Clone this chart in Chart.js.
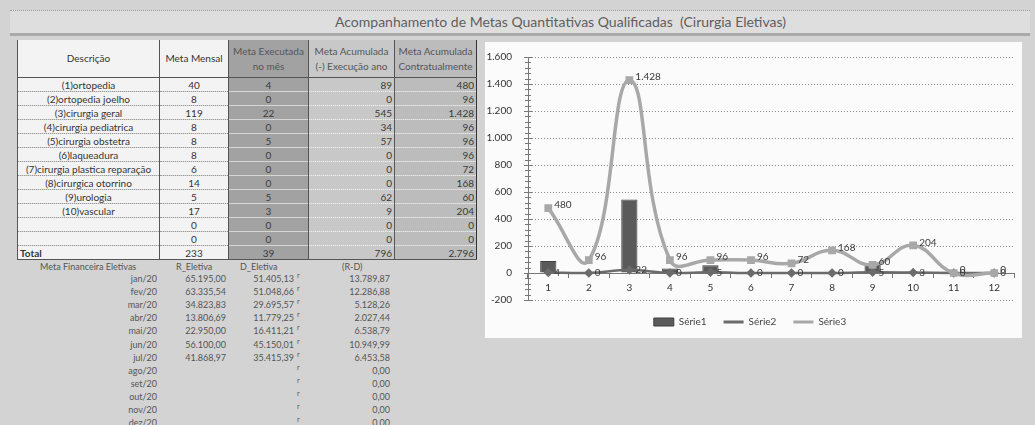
<!DOCTYPE html>
<html lang="pt-BR">
<head>
<meta charset="utf-8">
<script src="https://cdn.jsdelivr.net/npm/chart.js@4.4.1/dist/chart.umd.min.js"></script>
<style>
  html,body{margin:0;padding:0;}
  body{width:1035px;height:425px;background:#d3d3d3;position:relative;overflow:hidden;font-family:Lato,"Open Sans",sans-serif;}
  #titlebar{position:absolute;left:10px;top:10px;width:1020px;height:22px;background:#dedede;border-top:1px dotted #9a9a9a;border-bottom:3px solid #a9a9a9;}
  #titlebar span{position:absolute;left:325px;top:0;font-size:14px;line-height:22px;color:#5e5e5e;white-space:nowrap;}
  #tbl{position:absolute;left:17px;top:40px;border-collapse:collapse;table-layout:fixed;font-size:10px;color:#333;}
  #tbl td{padding:0 2px;height:13px;line-height:12px;white-space:nowrap;overflow:hidden;border-bottom:1px dotted #9a9a9a;}
  #tbl tr.hdr td{height:37px;line-height:15px;border-bottom:1px solid #555;}
  #tbl td.c1{background:#f3f3f3;text-align:center;border-left:1px solid #555;border-right:1px solid #555;}
  #tbl td.c2{background:#f3f3f3;text-align:center;border-right:1px solid #555;}
  #tbl td.c3{background:#a2a2a2;text-align:center;border-right:1px solid #555;border-bottom:1px dotted #d8d8d8;color:#3a3a3a;}
  #tbl td.c4{background:#c8c8c8;text-align:right;border-right:1px solid #555;border-bottom:1px dotted #eeeeee;color:#3a3a3a;}
  #tbl td.c5{background:#bcbcbc;text-align:right;border-right:1px solid #333;border-bottom:1px dotted #e6e6e6;color:#3a3a3a;}
  #tbl tr.hdr td.c3,#tbl tr.hdr td.c4,#tbl tr.hdr td.c5{color:#555;border-bottom:1px solid #555;}
  #tbl tr.tot td{border-bottom:1px solid #555;}
  #tbl tr.tot td.c1{text-align:left;font-weight:bold;}
  #fin{position:absolute;left:0;top:259px;width:1035px;height:166px;font-size:9px;color:#555;}
  #fin div{position:absolute;white-space:nowrap;}
  #chartbox{position:absolute;left:485px;top:42px;width:537px;height:296px;background:#fbfbfb;}
  #c{position:absolute;left:0;top:-7px;}
</style>
</head>
<body>
<div id="titlebar"><span>Acompanhamento de Metas Quantitativas Qualificadas&nbsp; (Cirurgia Eletivas)</span></div>
<table id="tbl"><colgroup><col style="width:142px"><col style="width:69px"><col style="width:80px"><col style="width:86px"><col style="width:82px"></colgroup><tbody id="tb"></tbody></table>
<div id="fin"></div>
<div id="chartbox"><canvas id="c" width="537" height="302"></canvas></div>
<script>
// ---- data ----
const categorias = ['1','2','3','4','5','6','7','8','9','10','11','12'];
const descricoes = ['(1)ortopedia','(2)ortopedia joelho','(3)cirurgia geral','(4)cirurgia pediatrica','(5)cirurgia obstetra','(6)laqueadura','(7)cirurgia plastica reparação','(8)cirurgica otorrino','(9)urologia','(10)vascular','',''];
const metaMensal = [40, 8, 119, 8, 8, 8, 6, 14, 5, 17, 0, 0];
const metaExecutadaMes = [4, 0, 22, 0, 5, 0, 0, 0, 5, 3, 0, 0];
const metaAcumuladaExec = [89, 0, 545, 34, 57, 0, 0, 0, 62, 9, 0, 0];
const metaContratual = [480, 96, 1428, 96, 96, 96, 72, 168, 60, 204, 0, 0];
const meses = ['jan/20','fev/20','mar/20','abr/20','mai/20','jun/20','jul/20','ago/20','set/20','out/20','nov/20','dez/20'];
const rEletiva = [65195.00, 63335.54, 34823.83, 13806.69, 22950.00, 56100.00, 41868.97, null, null, null, null, null];
const dEletiva = [51405.13, 51048.66, 29695.57, 11779.25, 16411.21, 45150.01, 35415.39, null, null, null, null, null];
const rMenosD = [13789.87, 12286.88, 5128.26, 2027.44, 6538.79, 10949.99, 6453.58, 0, 0, 0, 0, 0];
const yTicks = {min: -200, max: 1600, step: 200};

function fmtInt(v){ const s = Math.abs(Math.round(v)).toString().replace(/\B(?=(\d{3})+(?!\d))/g,'.'); return (v<0?'-':'')+s; }
function fmtDec(v){ if(v===null) return ''; const p = v.toFixed(2).split('.'); return p[0].replace(/\B(?=(\d{3})+(?!\d))/g,'.')+','+p[1]; }
const sum = a => a.reduce((s,x)=>s+x,0);

// ---- table ----
const tb = document.getElementById('tb');
let html = '<tr class="hdr"><td class="c1">Descrição</td><td class="c2">Meta Mensal</td><td class="c3">Meta Executada<br>no mês</td><td class="c4" style="text-align:center">Meta Acumulada<br>(-) Execução ano</td><td class="c5" style="text-align:center">Meta Acumulada<br>Contratualmente</td></tr>';
for(let i=0;i<descricoes.length;i++){
  html += `<tr><td class="c1">${descricoes[i]}</td><td class="c2">${metaMensal[i]}</td><td class="c3">${metaExecutadaMes[i]}</td><td class="c4">${fmtInt(metaAcumuladaExec[i])}</td><td class="c5">${fmtInt(metaContratual[i])}</td></tr>`;
}
html += `<tr class="tot"><td class="c1">Total</td><td class="c2">${sum(metaMensal)}</td><td class="c3">${sum(metaExecutadaMes)}</td><td class="c4">${fmtInt(sum(metaAcumuladaExec))}</td><td class="c5">${fmtInt(sum(metaContratual))}</td></tr>`;
tb.innerHTML = html;

// ---- financial block ----
const fin = document.getElementById('fin');
let f = '';
f += '<div style="left:40px;top:2px">Meta Financeira Eletivas</div>';
f += '<div style="left:176px;top:2px">R_Eletiva</div>';
f += '<div style="left:240px;top:2px">D_Eletiva</div>';
f += '<div style="left:342px;top:2px">(R-D)</div>';
for(let i=0;i<meses.length;i++){
  const t = 14 + i*13.1;
  f += `<div style="right:${1035-157}px;top:${t}px">${meses[i]}</div>`;
  f += `<div style="right:${1035-226}px;top:${t}px">${fmtDec(rEletiva[i])}</div>`;
  f += `<div style="right:${1035-294}px;top:${t}px">${fmtDec(dEletiva[i])}</div>`;
  f += `<div style="left:297px;top:${t-2}px;font-size:7px">r</div>`;
  f += `<div style="right:${1035-390}px;top:${t}px">${fmtDec(rMenosD[i])}</div>`;
}
fin.innerHTML = f;

// ---- chart ----
const valueLabels = {
  id:'valueLabels',
  afterDatasetsDraw(chart){
    const ctx = chart.ctx;
    ctx.save();
    ctx.font = '10px Lato';
    ctx.fillStyle = '#3a3a3a';
    ctx.textAlign = 'left';
    ctx.textBaseline = 'middle';
    [1,2].forEach(di=>{
      const meta = chart.getDatasetMeta(di);
      meta.data.forEach((pt,i)=>{
        ctx.fillText(fmtInt(chart.data.datasets[di].data[i]), pt.x+6, pt.y-(di===2?3:0));
      });
    });
    ctx.restore();
  }
};
const minorTicks = {
  id:'minorTicks',
  afterDraw(chart){
    const y = chart.scales.y, ctx = chart.ctx, x0 = chart.chartArea.left;
    ctx.save();
    ctx.strokeStyle = '#777';
    ctx.lineWidth = 1;
    for(let v = yTicks.min; v <= yTicks.max; v += yTicks.step/5){
      const py = Math.round(y.getPixelForValue(v))+0.5;
      const major = (v % yTicks.step) === 0;
      ctx.beginPath();
      ctx.moveTo(x0 - (major?4:3), py);
      ctx.lineTo(x0 + (major?4:3), py);
      ctx.stroke();
    }
    ctx.restore();
  }
};

Chart.defaults.font.family = 'Lato';
Chart.defaults.color = '#444';

new Chart(document.getElementById('c'), {
  data: {
    labels: categorias,
    datasets: [
      {type:'bar', label:'Série1', data: metaAcumuladaExec, backgroundColor:'#5a5a5a', borderColor:'#404040', borderWidth:1,
        barPercentage:0.4, categoryPercentage:1, order:2},
      {type:'line', label:'Série2', data: metaExecutadaMes, borderColor:'#6b6b6b', backgroundColor:'#6b6b6b', borderWidth:2.5,
        pointStyle:'rectRot', pointRadius:3, tension:0.4, order:1},
      {type:'line', label:'Série3', data: metaContratual, borderColor:'#a8a8a8', backgroundColor:'#a8a8a8', borderWidth:3.5,
        pointStyle:'rect', pointRadius:3, tension:0.45, order:0}
    ]
  },
  options: {
    responsive:false,
    animation:false,
    layout:{padding:{top:3, right:7, left:0, bottom:0}},
    plugins:{
      tooltip:{enabled:false},
      legend:{
        position:'bottom',
        labels:{
          usePointStyle:true, pointStyleWidth:20, boxHeight:8, padding:17, font:{size:10}, color:'#444',
          generateLabels(chart){
            const items = Chart.defaults.plugins.legend.labels.generateLabels(chart);
            items.forEach(it=>{ it.pointStyle = it.datasetIndex===0 ? 'rect' : 'line'; it.lineWidth = it.datasetIndex===0 ? 1 : 3; });
            return items;
          },
          sort:(a,b)=>a.datasetIndex-b.datasetIndex
        }
      }
    },
    scales:{
      x:{
        position:{y:0},
        offset:true,
        grid:{display:true, drawOnChartArea:false, offset:true, tickLength:4, color:'#777'},
        border:{display:true, color:'#777', width:1},
        ticks:{padding:5, font:{size:10}, color:'#333'}
      },
      y:{
        min:yTicks.min, max:yTicks.max,
        ticks:{stepSize:yTicks.step, padding:16, font:{size:10}, color:'#333', callback:v=>fmtInt(v)},
        grid:{color:'#8a8a8a', drawTicks:false},
        border:{display:true, color:'#777', dash:[1,2]},
        afterFit(s){ s.width = 43; }
      }
    }
  },
  plugins:[valueLabels, minorTicks]
});
</script>
</body>
</html>
